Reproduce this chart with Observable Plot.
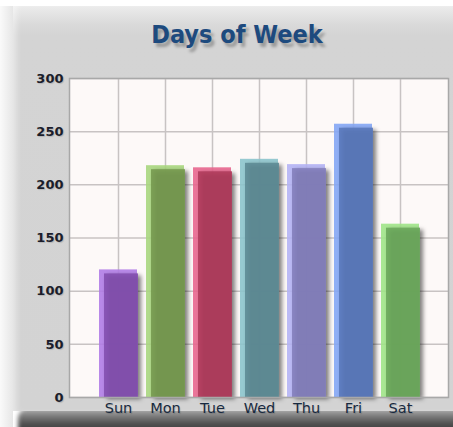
<!DOCTYPE html>
<html>
<head>
<meta charset="utf-8">
<script src="https://cdn.jsdelivr.net/npm/d3@7"></script>
<script src="https://cdn.jsdelivr.net/npm/@observablehq/plot@0.6"></script>
<style>
  html, body { margin: 0; padding: 0; }
  body { width: 453px; height: 427px; position: relative; overflow: hidden; background: #ffffff; }
  #leftstrip { position: absolute; left: 0; top: 6px; width: 13px; height: 421px;
    background: linear-gradient(to right, #fafafa, #e6e6e6); }
  #shadow { position: absolute; left: 18px; top: 407px; width: 450px; height: 26px;
    background: linear-gradient(to bottom, #c4c4c4, #7a7a7a 35%, #4a4a4a 70%, #3c3c3c);
    filter: blur(2px); border-radius: 12px 0 0 0; }
  #panel { position: absolute; left: 13px; top: 6px; width: 440px; height: 405px;
    background: linear-gradient(to bottom, #ececec 0px, #dadada 18px, #d4d4d4 30px, #d3d3d3 100%);
    box-shadow: inset 6px 0 6px -3px rgba(255,255,255,0.5); }
  #title { position: absolute; left: 13px; top: 20px; width: 448px; text-align: center;
    font-family: "DejaVu Sans Condensed", "DejaVu Sans", sans-serif; font-stretch: condensed;
    font-weight: bold; font-size: 25px; color: #1d4a7e;
    text-shadow: 3px 4px 3px rgba(0,0,0,0.28); }
  #chart { position: absolute; left: 0; top: 60px; }
  #chart svg text { text-shadow: 1px 1px 1px rgba(0,0,0,0.15); }
  #chart svg g[aria-label^="y-axis"] text { font-weight: bold !important; font-size: 13px !important; fill: #1b1d2b !important; }
  #chart svg g[aria-label^="x-axis"] text { font-size: 14.5px !important; fill: #182a40 !important; }
</style>
</head>
<body>
<div id="leftstrip"></div>
<div id="shadow"></div>
<div id="panel"></div>
<div id="title">Days of Week</div>
<div id="chart"></div>
<script>
const days = ["Sun", "Mon", "Tue", "Wed", "Thu", "Fri", "Sat"];
const values = [120, 218, 216, 224, 219, 257, 163];
const bodyColors = ["#8450b0", "#779a50", "#b03c5c", "#5e8c96", "#847fbc", "#5a79bb", "#6ca85c"];
const lightColors = ["#b07ce6", "#a8d67e", "#e8668e", "#8cc4cc", "#b4b2f4", "#84a6f4", "#a0e488"];
const yTicks = [0, 50, 100, 150, 200, 250, 300];

const data = days.map((d, i) => ({day: d, value: values[i], body: bodyColors[i], light: lightColors[i]}));

const svg = Plot.plot({
  width: 453,
  height: 360,
  marginLeft: 69,
  marginRight: 5,
  marginTop: 18,
  marginBottom: 23,
  style: {background: "transparent", fontFamily: "DejaVu Sans, sans-serif", overflow: "visible"},
  x: {domain: days, paddingInner: 0.2, paddingOuter: 0.6, label: null, tickSize: 0, tickPadding: 5},
  y: {domain: [0, 300], ticks: yTicks, label: null, tickSize: 0, tickPadding: 6},
  marks: [
    Plot.frame({fill: "#fdf9f8", stroke: null}),
    Plot.ruleY(yTicks, {stroke: "#c8c3c3", strokeWidth: 1.5}),
    Plot.ruleX(days, {stroke: "#c8c3c3", strokeWidth: 1.5}),
    Plot.barY(data, {x: "day", y: "value", fill: "light", fillOpacity: 0.9}),
    Plot.barY(data, {x: "day", y: "value", fill: "body", fillOpacity: 0.9, insetTop: 4, insetLeft: 5, insetRight: -1}),
    Plot.frame({stroke: "#a8a8a8", strokeWidth: 1.5})
  ]
});

const sel = d3.select(svg);
const barGroups = sel.selectAll("g[aria-label='bar']").nodes();
if (barGroups.length) {
  d3.select(barGroups[barGroups.length - 1]).style("filter", "drop-shadow(3px 2px 2px rgba(0,0,0,0.55))");
}
document.getElementById("chart").appendChild(svg);
</script>
</body>
</html>
